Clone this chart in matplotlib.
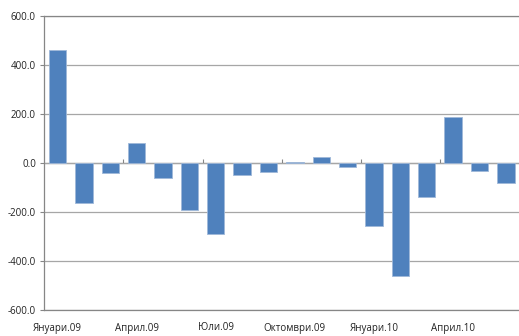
import matplotlib
matplotlib.use("Agg")
import matplotlib.pyplot as plt
import numpy as np

months = ["Януари.09", "Февруари.09", "Март.09", "Април.09", "Май.09", "Юни.09",
          "Юли.09", "Август.09", "Септември.09", "Октомври.09", "Ноември.09", "Декември.09",
          "Януари.10", "Февруари.10", "Март.10", "Април.10", "Май.10", "Юни.10"]
values = [462, -165, -39, 82, -63, -192, -291, -48, -38, 4, 23, -16,
          -257, -461, -140, 188, -31, -80]
y_ticks = [-600, -400, -200, 0, 200, 400, 600]

axis_grey = "#868686"
grid_grey = "#a6a6a6"
bar_blue = "#4F81BD"

plt.rcParams["font.family"] = ["Open Sans", "DejaVu Sans"]

fig = plt.figure(figsize=(5.19, 3.36), dpi=100)
ax = fig.add_axes([44.3 / 519, 1 - 310 / 336, 1 - 44.3 / 519, (310 - 16) / 336])

x = np.arange(len(months))
ax.bar(x, values, width=0.66, color=bar_blue, edgecolor="#9fb8d9", linewidth=0.6, zorder=3)

ax.set_xlim(-0.5, len(months) - 0.5)
ax.set_ylim(y_ticks[0], y_ticks[-1])
ax.set_yticks(y_ticks)
ax.set_yticklabels([f"{v:.1f}" for v in y_ticks])
ax.yaxis.grid(True, color=grid_grey, linewidth=0.9, zorder=0)
ax.tick_params(axis="y", length=3, width=0.8, color=axis_grey, labelsize=7, pad=3,
               labelcolor="#222222")

# category labels every third month along the bottom edge
ax.set_xticks(x[::3])
ax.set_xticklabels(months[::3])
ax.tick_params(axis="x", length=0, labelsize=7, pad=9, labelcolor="#222222")

for side in ["top", "bottom", "left"]:
    ax.spines[side].set_color(axis_grey)
    ax.spines[side].set_linewidth(0.9)
ax.spines["right"].set_visible(False)

# category axis crossing at zero with quarter tick marks
zero_pos = (0 - y_ticks[0]) / (y_ticks[-1] - y_ticks[0])
cat = ax.secondary_xaxis(zero_pos)
cat.set_xticks(np.arange(2.5, len(months) - 1, 3))
cat.set_xticklabels([])
cat.tick_params(axis="x", direction="out", length=3, width=0.8, color=axis_grey)
cat.spines["bottom"].set_color(axis_grey)
cat.spines["bottom"].set_linewidth(0.9)

fig.savefig("out.png", dpi=100, facecolor="white")
